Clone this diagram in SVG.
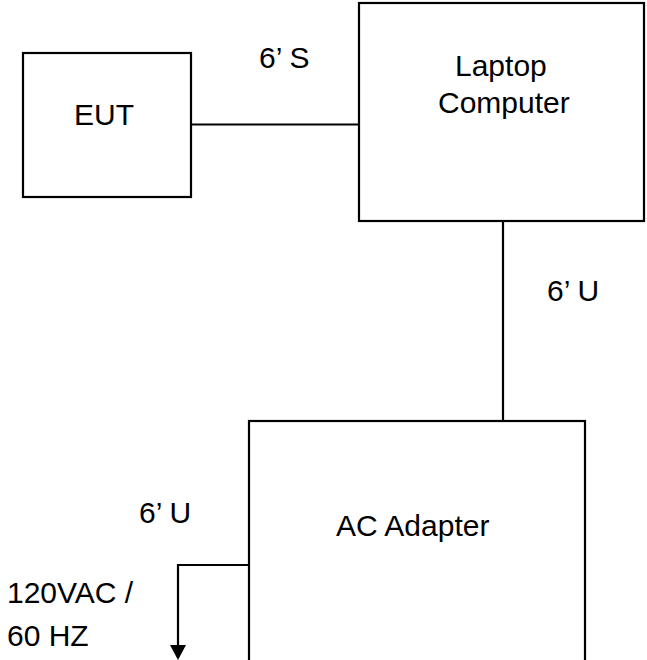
<svg xmlns="http://www.w3.org/2000/svg" width="647" height="660" viewBox="0 0 647 660">
  <style>
    .box { fill: #ffffff; stroke: #000000; stroke-width: 2.2; }
    .wire { fill: none; stroke: #000000; stroke-width: 2.2; }
    .lbl { font-family: "Liberation Sans", Arial, sans-serif; font-size: 30px; fill: #000000; }
  </style>
  <defs>
    <marker id="arrow" viewBox="0 0 16 15" refX="8" refY="15" markerWidth="16" markerHeight="15" markerUnits="userSpaceOnUse" orient="auto-start-reverse">
      <path d="M0,0 L16,0 L8,15 Z" fill="#000000"/>
    </marker>
  </defs>
  <rect width="647" height="660" fill="#ffffff"/>

  <g id="connectors">
    <line class="wire" x1="191" y1="124.5" x2="359" y2="124.5"/>
    <line class="wire" x1="503" y1="221" x2="503" y2="421"/>
    <polyline class="wire" points="249,565 178,565 178,646"/>
    <path d="M170,645 L186,645 L178,660 Z" fill="#000000"/>
  </g>

  <g id="eut">
    <rect class="box" x="23" y="53" width="168" height="144"/>
    <text class="lbl" x="104" y="125" text-anchor="middle">EUT</text>
  </g>

  <g id="laptop">
    <rect class="box" x="359" y="3" width="285" height="218"/>
    <text class="lbl" x="455" y="75.5">Laptop</text>
    <text class="lbl" x="438" y="113">Computer</text>
  </g>

  <g id="ac-adapter">
    <rect class="box" x="249" y="421" width="336" height="300"/>
    <text class="lbl" x="336" y="536">AC Adapter</text>
  </g>

  <g id="labels">
    <text class="lbl" x="259" y="68">6’ S</text>
    <text class="lbl" x="547" y="301">6’ U</text>
    <text class="lbl" x="139" y="523">6’ U</text>
    <text class="lbl" x="7" y="603">120VAC /</text>
    <text class="lbl" x="7" y="646">60 HZ</text>
  </g>
</svg>
